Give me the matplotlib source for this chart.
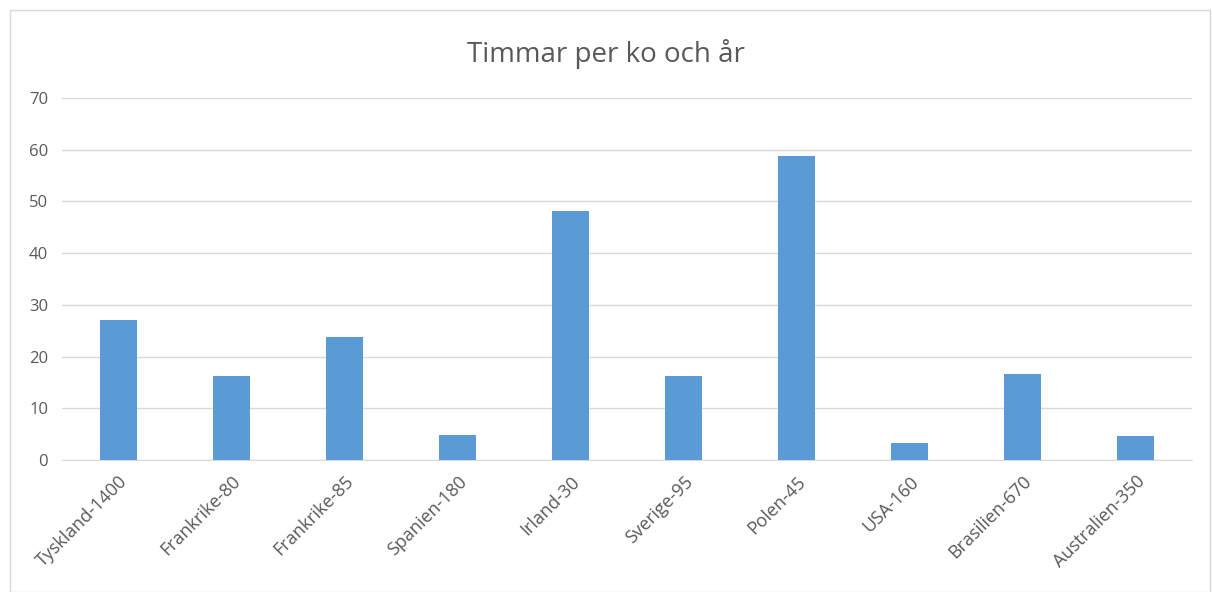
import matplotlib.pyplot as plt
from matplotlib.patches import Rectangle

labels = ['Tyskland-1400', 'Frankrike-80', 'Frankrike-85', 'Spanien-180', 'Irland-30',
          'Sverige-95', 'Polen-45', 'USA-160', 'Brasilien-670', 'Australien-350']
values = [27, 16.2, 23.7, 4.9, 48.2, 16.2, 58.8, 3.3, 16.6, 4.6]

plt.rcParams['font.family'] = ['Open Sans', 'DejaVu Sans']

fig = plt.figure(figsize=(12.12, 5.92), dpi=100)
fig.patches.append(Rectangle((10/1212, 0), 1 - 10/1212 - 2/1212, 1 - 10/592,
                             transform=fig.transFigure, fill=False,
                             edgecolor='#d9d9d9', linewidth=1))
ax = fig.add_axes([62/1212, 1 - 460/592, 1130/1212, 362/592])

x = range(len(labels))
ax.bar(x, values, width=0.32, color='#5B9BD5', zorder=3)
ax.set_xlim(-0.5, len(labels) - 0.5)
ax.set_ylim(0, 70)
ax.set_yticks(range(0, 71, 10))
ax.grid(axis='y', color='#d9d9d9', linewidth=1, zorder=0)
for s in ['top', 'right', 'left']:
    ax.spines[s].set_visible(False)
ax.spines['bottom'].set_color('#d9d9d9')
ax.tick_params(axis='both', length=0, colors='#595959')
ax.tick_params(axis='y', pad=10, labelsize=12)
ax.set_xticks(list(x))
ax.set_xticklabels(labels, rotation=45, ha='right', rotation_mode='anchor')
ax.tick_params(axis='x', pad=9, labelsize=13)

fig.text(0.5, 1 - 54/592, 'Timmar per ko och år', ha='center', va='center',
         fontsize=20, color='#595959')

fig.savefig('out.png', dpi=100)
